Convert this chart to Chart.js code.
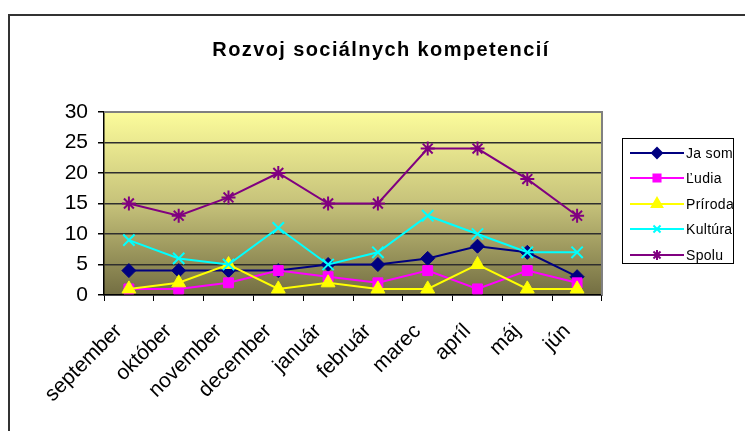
<!DOCTYPE html>
<html>
<head>
<meta charset="utf-8">
<script src="https://cdn.jsdelivr.net/npm/chart.js@4.4.1/dist/chart.umd.min.js"></script>
<style>
  body { margin: 0; background: #fff; font-family: "Liberation Sans", Arial, sans-serif; }
  #wrap { position: relative; width: 745px; height: 431px; overflow: hidden; }
  #frame { position: absolute; left: 8px; top: 14px; width: 800px; height: 500px; border: 2px solid #333; }
  #title { position: absolute; left: 0; width: 762px; top: 38px; text-align: center; font-weight: bold; font-size: 20px; letter-spacing: 1.4px; line-height: 22px; color: #000; }
  #chart { position: absolute; left: 0; top: 0; }
  #legend { position: absolute; left: 622px; top: 138px; width: 112px; height: 126px; border: 1px solid #000; background: #fff; padding-top: 1px; box-sizing: border-box; }
  .item { height: 25.5px; display: flex; align-items: center; font-size: 14px; letter-spacing: 0.3px; }
  .item canvas { margin-left: 7px; margin-right: 2px; }
</style>
</head>
<body>
<div id="wrap">
  <div id="frame"></div>
  <canvas id="chart" width="745" height="431"></canvas>
  <div id="title">Rozvoj sociálnych kompetencií</div>
  <div id="legend"></div>
</div>
<script>
const months = ['september', 'október', 'november', 'december', 'január', 'február', 'marec', 'apríl', 'máj', 'jún'];
const jaSom   = [4, 4, 4, 4, 5, 5, 6, 8, 7, 3];
const ludia   = [1, 1, 2, 4, 3, 2, 4, 1, 4, 2];
const priroda = [1, 2, 5, 1, 2, 1, 1, 5, 1, 1];
const kultura = [9, 6, 5, 11, 5, 7, 13, 10, 7, 7];
const spolu   = [15, 13, 16, 20, 15, 15, 24, 24, 19, 13];
const yTicks  = [0, 5, 10, 15, 20, 25, 30];

const series = [
  { label: 'Ja som',  data: jaSom,   color: '#000080', style: 'rectRot',  r: 7, lr: 5 },
  { label: 'Ľudia',   data: ludia,   color: '#ff00ff', style: 'rect',     r: 7, lr: 5 },
  { label: 'Príroda', data: priroda, color: '#ffff00', style: 'triangle', r: 8, lr: 6 },
  { label: 'Kultúra', data: kultura, color: '#00ffff', style: 'crossRot', r: 8, lr: 5 },
  { label: 'Spolu',   data: spolu,   color: '#800080', style: 'star',     r: 7, lr: 5 }
];

// plot background gradient + grey top/right border, like the old Excel chart
const plotArea = {
  id: 'plotArea',
  beforeDraw(chart) {
    const { ctx, chartArea: a } = chart;
    const g = ctx.createLinearGradient(0, a.top, 0, a.bottom);
    g.addColorStop(0, '#fcfc9b');
    g.addColorStop(0.5, '#c6c27a');
    g.addColorStop(1, '#736e42');
    ctx.save();
    ctx.fillStyle = g;
    ctx.fillRect(a.left, a.top, a.width, a.height);
    ctx.restore();
  },
  beforeDatasetsDraw(chart) {
    const { ctx, chartArea: a } = chart;
    ctx.save();
    ctx.strokeStyle = '#808080';
    ctx.lineWidth = 2;
    ctx.beginPath();
    ctx.moveTo(a.left, a.top);
    ctx.lineTo(a.right, a.top);
    ctx.lineTo(a.right, a.bottom);
    ctx.stroke();
    ctx.restore();
  }
};

const chart = new Chart(document.getElementById('chart'), {
  type: 'line',
  data: {
    labels: months,
    datasets: series.map((s, i) => ({
      label: s.label,
      data: s.data,
      borderColor: s.color,
      backgroundColor: s.color,
      borderWidth: 2,
      pointStyle: s.style,
      pointRadius: s.r,
      pointHoverRadius: s.r,
      pointBackgroundColor: s.color,
      pointBorderColor: s.color,
      pointBorderWidth: (s.style === 'crossRot' || s.style === 'star') ? 2 : 1,
      tension: 0,
      fill: false,
      order: series.length - i
    }))
  },
  options: {
    responsive: false,
    animation: false,
    events: [],
    layout: { padding: { top: 112, right: 143, left: 0, bottom: 0 } },
    plugins: {
      legend: { display: false },
      title: { display: false },
      tooltip: { enabled: false }
    },
    scales: {
      x: {
        offset: true,
        afterFit(scale) { scale.height = 136; },
        grid: { offset: true, drawOnChartArea: false, drawTicks: true, tickLength: 6, tickColor: '#000' },
        border: { color: '#000', width: 1.5 },
        ticks: {
          autoSkip: false,
          minRotation: 45,
          maxRotation: 45,
          padding: 18,
          labelOffset: -10,
          color: '#000',
          font: { family: '"Liberation Sans", Arial, sans-serif', size: 21 }
        }
      },
      y: {
        min: 0,
        max: 30,
        afterFit(scale) { scale.width = 104; },
        afterBuildTicks(scale) { scale.ticks = yTicks.map(v => ({ value: v })); },
        grid: { color: '#2e2e2e', lineWidth: 1.5, tickLength: 6, tickColor: '#000' },
        border: { color: '#000', width: 1.5 },
        ticks: {
          padding: 10,
          color: '#000',
          font: { family: '"Liberation Sans", Arial, sans-serif', size: 21 }
        }
      }
    }
  },
  plugins: [plotArea]
});

// legend with line + marker, built from the datasets
const legend = document.getElementById('legend');
series.forEach(s => {
  const row = document.createElement('div');
  row.className = 'item';
  const c = document.createElement('canvas');
  c.width = 54; c.height = 16;
  const ctx = c.getContext('2d');
  ctx.strokeStyle = s.color;
  ctx.fillStyle = s.color;
  ctx.lineWidth = 2;
  ctx.beginPath(); ctx.moveTo(0, 8); ctx.lineTo(54, 8); ctx.stroke();
  Chart.helpers.drawPoint(ctx, { pointStyle: s.style, radius: s.lr, rotation: 0, borderWidth: 2 }, 27, 8);
  const t = document.createElement('span');
  t.textContent = s.label;
  row.appendChild(c);
  row.appendChild(t);
  legend.appendChild(row);
});
</script>
</body>
</html>
